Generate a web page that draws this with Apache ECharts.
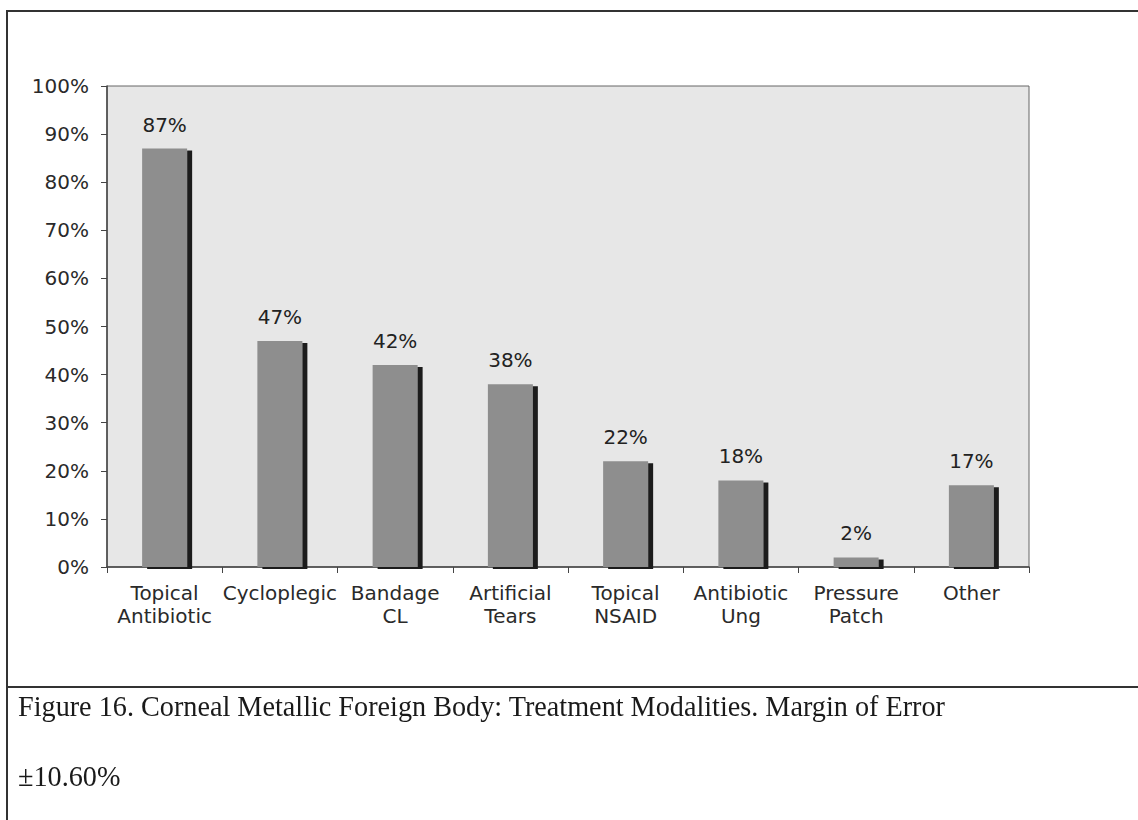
<!DOCTYPE html>
<html>
<head>
<meta charset="utf-8">
<script src="https://cdn.jsdelivr.net/npm/echarts@6/dist/echarts.min.js"></script>
<style>
  html, body { margin: 0; padding: 0; background: #fff; }
  #page { position: relative; width: 1138px; height: 820px; overflow: hidden; }
  #chart { position: absolute; left: 0; top: 0; width: 1138px; height: 687px; }
  .line { position: absolute; background: #333; }
  .cap { position: absolute; left: 18px; font-family: "Liberation Serif", serif; font-size: 29px; color: #1a1a1a;
         white-space: nowrap; transform-origin: 0 0; line-height: 1; }
</style>
</head>
<body>
<div id="page">
  <div id="chart"></div>
  <div class="line" style="left:7px;top:10px;width:1131px;height:2px"></div>
  <div class="line" style="left:6px;top:10px;width:2px;height:810px"></div>
  <div class="line" style="left:7px;top:686px;width:1131px;height:2px"></div>
  <div class="cap" id="cap1" style="top:692px">Figure 16. Corneal Metallic Foreign Body: Treatment Modalities. Margin of Error</div>
  <div class="cap" id="cap2" style="top:762px">±10.60%</div>
</div>
<script>
  const categories = ["Topical\nAntibiotic", "Cycloplegic", "Bandage\nCL", "Artificial\nTears", "Topical\nNSAID", "Antibiotic\nUng", "Pressure\nPatch", "Other"]
  const values = [87, 47, 42, 38, 22, 18, 2, 17]
  const yTicks = [0, 10, 20, 30, 40, 50, 60, 70, 80, 90, 100]

  // squeeze the caption to the width it has in the scan
  const cap1 = document.getElementById("cap1")
  const sx = 927 / cap1.getBoundingClientRect().width
  cap1.style.transform = "scaleX(" + sx + ")"
  document.getElementById("cap2").style.transform = "scaleX(" + sx + ")"

  const font = "DejaVu Sans"
  const option = {
    animation: false,
    grid: {
      left: 107,
      right: 109,
      top: 86,
      bottom: 120,
      show: true,
      backgroundColor: "#e7e7e7",
      borderColor: "#666",
      borderWidth: 1,
    },
    xAxis: {
      type: "category",
      data: categories,
      axisLine: { lineStyle: { color: "#444", width: 1.5 } },
      axisTick: { show: true, length: 6, lineStyle: { color: "#444" } },
      axisLabel: { color: "#2a2a2a", fontFamily: font, fontSize: 20, lineHeight: 23, margin: 14, interval: 0 },
    },
    yAxis: {
      type: "value",
      min: yTicks[0],
      max: yTicks[yTicks.length - 1],
      interval: 10,
      axisLine: { show: true, lineStyle: { color: "#444", width: 1.5 } },
      axisTick: { show: true, length: 6, lineStyle: { color: "#444" } },
      splitLine: { show: false },
      axisLabel: { color: "#2a2a2a", fontFamily: font, fontSize: 20, margin: 18, formatter: "{value}%" },
    },
    series: [
      {
        type: "bar",
        data: values,
        barWidth: 45,
        itemStyle: {
          color: "#8e8e8e",
          shadowColor: "#1e1e1e",
          shadowOffsetX: 5,
          shadowOffsetY: 2,
          shadowBlur: 0,
        },
        label: {
          show: true,
          position: "top",
          distance: 14,
          formatter: "{c}%",
          color: "#222",
          fontFamily: font,
          fontSize: 20,
        },
      },
    ],
  }
  const myChart = echarts.init(document.getElementById("chart"), null, { renderer: "svg" })
  myChart.setOption(option)
</script>
</body>
</html>
